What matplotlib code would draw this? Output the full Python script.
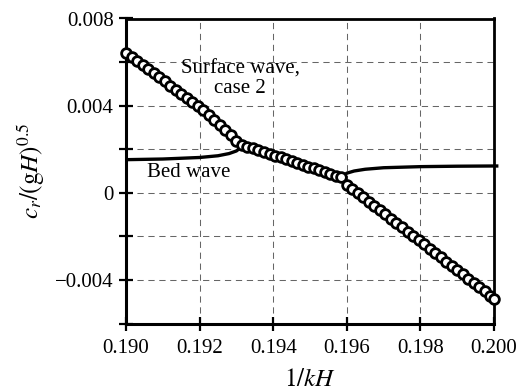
import matplotlib
matplotlib.use("Agg")
import matplotlib.pyplot as plt

plt.rcParams['font.family'] = ['Liberation Serif', 'DejaVu Serif']
plt.rcParams['mathtext.fontset'] = 'stix'

# Surface wave, case 2 (x = 1/kH, y = c_r/(gH)^0.5 in units of 1e-3)
surf_x = [0.19000, 0.19015, 0.19030, 0.19045, 0.19060, 0.19075, 0.19090, 0.19105,
          0.19120, 0.19135, 0.19150, 0.19165, 0.19180, 0.19195, 0.19210, 0.19225,
          0.19240, 0.19255, 0.19270, 0.19285, 0.19300, 0.19315, 0.19330, 0.19345,
          0.19360, 0.19375, 0.19390, 0.19405, 0.19420, 0.19435, 0.19450, 0.19465,
          0.19480, 0.19495, 0.19510, 0.19525, 0.19540, 0.19555, 0.19570, 0.19585,
          0.19600, 0.19615, 0.19630, 0.19645, 0.19660, 0.19675, 0.19690, 0.19705,
          0.19720, 0.19735, 0.19750, 0.19765, 0.19780, 0.19795, 0.19810, 0.19825,
          0.19840, 0.19855, 0.19870, 0.19885, 0.19900, 0.19915, 0.19930, 0.19945,
          0.19960, 0.19975, 0.19990, 0.20000]
surf_y = [6.42, 6.23, 6.05, 5.86, 5.67, 5.48, 5.30, 5.11,
          4.92, 4.73, 4.55, 4.36, 4.17, 3.98, 3.80, 3.59,
          3.35, 3.11, 2.88, 2.64, 2.40, 2.20, 2.12, 2.04,
          1.95, 1.87, 1.79, 1.70, 1.62, 1.54, 1.45, 1.37,
          1.29, 1.20, 1.12, 1.04, 0.96, 0.87, 0.79, 0.71,
          0.38, 0.18, -0.01, -0.21, -0.41, -0.60, -0.80, -0.99,
          -1.19, -1.39, -1.58, -1.78, -1.98, -2.17, -2.37, -2.57,
          -2.76, -2.96, -3.16, -3.35, -3.55, -3.75, -3.94, -4.14,
          -4.33, -4.53, -4.73, -4.86]

# Bed wave
bed_x = [0.19000, 0.19100, 0.19200, 0.19250, 0.19280, 0.19300, 0.19310, 0.19314,
         0.19586, 0.19600, 0.19620, 0.19650, 0.19700, 0.19800, 0.19900, 0.20000, 0.20012]
bed_y = [1.52, 1.55, 1.62, 1.70, 1.80, 1.92, 2.05, 2.21,
         0.71, 0.90, 1.00, 1.08, 1.15, 1.20, 1.22, 1.23, 1.23]

x_ticks = [0.190, 0.192, 0.194, 0.196, 0.198, 0.200]
x_tick_labels = ["0.190", "0.192", "0.194", "0.196", "0.198", "0.200"]
y_ticks = [-0.006, -0.004, -0.002, 0.0, 0.002, 0.004, 0.006, 0.008]
y_tick_labels = ["", "\u22120.004", "", "0", "", "0.004", "", "0.008"]

fig = plt.figure(figsize=(5.2, 3.91), dpi=100)
ax = fig.add_axes([126/520, 1 - 323.5/391, (494-126)/520, (323.5-18.5)/391])

ax.plot(bed_x, [v * 1e-3 for v in bed_y], color='black', lw=2.4,
        solid_capstyle='butt', clip_on=False, zorder=3)
ax.plot(surf_x, [v * 1e-3 for v in surf_y], color='black', lw=1.0, marker='o',
        markersize=7.0, markerfacecolor='white', markeredgecolor='black',
        markeredgewidth=2.0, clip_on=False, zorder=4)

ax.set_xlim(0.190, 0.200)
ax.set_ylim(-0.006, 0.008)
ax.set_xticks(x_ticks)
ax.set_xticklabels(x_tick_labels)
ax.set_yticks(y_ticks)
ax.set_yticklabels(y_tick_labels)

ax.grid(True, color='#666666', linestyle=(0, (6, 4.5)), linewidth=0.75)
ax.set_axisbelow(True)

for side in ['left', 'bottom']:
    ax.spines[side].set_linewidth(2.2)
for side in ['top', 'right']:
    ax.spines[side].set_linewidth(2.0)

ax.tick_params(axis='both', direction='inout', length=10, width=1.6,
               labelsize=15, colors='black', pad=4)
ax.tick_params(axis='x', pad=6)

ax.set_xlabel(r'$1/kH$', fontsize=18, labelpad=8)
ax.set_ylabel(r'$c_r/(\mathrm{g}H)^{0.5}$', fontsize=18, labelpad=6)

ax.text(0.19310, 0.00524, "Surface wave,\ncase 2", ha='center', va='center',
        fontsize=15, linespacing=1.0, zorder=5)
ax.text(0.19057, 0.00092, "Bed wave", ha='left', va='center', fontsize=15, zorder=5)

fig.savefig("out.png", dpi=100)
